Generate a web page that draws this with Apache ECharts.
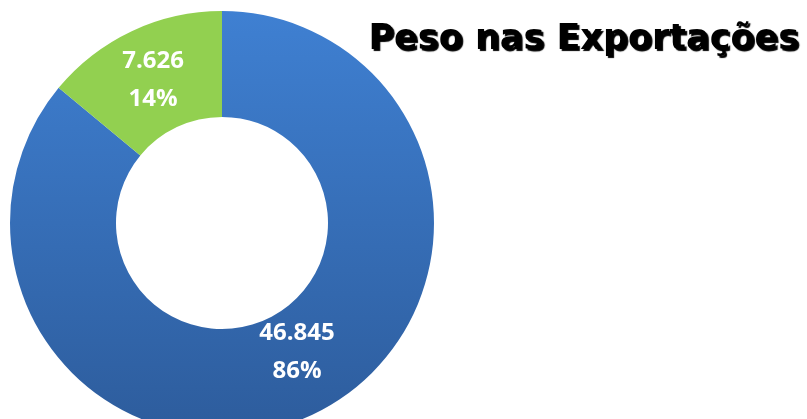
<!DOCTYPE html>
<html><head><meta charset="utf-8">
<script src="https://cdn.jsdelivr.net/npm/echarts@6/dist/echarts.min.js"></script>
<style>html,body{margin:0;padding:0;background:#fff}#c{width:807px;height:419px}</style>
</head><body><div id="c"></div>
<script>
const categories = ['A', 'B'];
const values = [46845, 7626];
const valueLabels = ['46.845', '7.626'];
const pctLabels = ['86%', '14%'];
const titleText = 'Peso nas Exportações';

const chart = echarts.init(document.getElementById('c'), null, {renderer: 'canvas'});
const colors = [
  new echarts.graphic.LinearGradient(0, 0, 0, 1, [{offset: 0, color: '#3F80D2'}, {offset: 1, color: '#2D5C9C'}]),
  '#92D050'
];
const offsets = [[6, -17], [0, 4]];
chart.setOption({
  animation: false,
  title: {
    text: titleText, right: 3, top: 17,
    textStyle: {fontFamily: 'DejaVu Sans', fontWeight: 'bold', fontSize: 35, color: '#000',
      textShadowColor: '#000', textShadowOffsetX: 2, textShadowOffsetY: 2, textShadowBlur: 1}
  },
  series: [{
    type: 'pie', center: [222, 223], radius: [106, 212], startAngle: 90, clockwise: true,
    avoidLabelOverlap: false,
    data: categories.map((c, i) => ({name: c, value: values[i], itemStyle: {color: colors[i]},
      label: {formatter: valueLabels[i] + '\n' + pctLabels[i], offset: offsets[i]}})),
    label: {show: true, position: 'inside', color: '#fff', fontFamily: 'Open Sans', fontWeight: 'bold',
      fontSize: 24, lineHeight: 38},
    labelLine: {show: false},
    emphasis: {disabled: true}
  }]
});
</script></body></html>
